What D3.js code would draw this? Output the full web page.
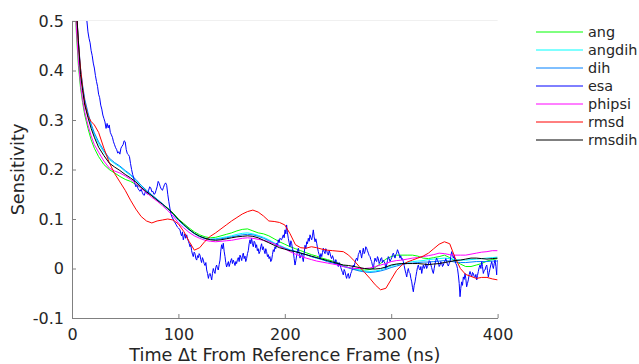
<!DOCTYPE html>
<html>
<head>
<meta charset="utf-8">
<script src="https://cdn.jsdelivr.net/npm/d3@7"></script>
<style>
  html, body { margin: 0; padding: 0; background: #fff; }
  svg { display: block; font-family: "DejaVu Sans", sans-serif; }
</style>
</head>
<body>
<svg id="chart" width="639" height="364"></svg>
<script>
// Lag time grid (ns) shared by the smooth sensitivity curves
const timeNs = [0,2,4,6,8,10,12,15,18,21,
  25,30,35,40,45,50,55,60,65,70,
  75,80,85,90,95,100,105,110,115,120,
  125,130,135,140,145,150,155,160,165,170,
  175,180,185,190,195,200,205,210,215,220,
  225,230,235,240,245,250,255,260,265,270,
  275,280,285,290,295,300,305,310,315,320,
  325,330,335,340,345,350,355,360,365,370,
  375,380,385,390,395,400];

const ang = [1.0,0.62,0.48,0.41,0.365,0.335,0.31,0.283,0.26,0.243,
  0.226,0.21,0.2,0.193,0.186,0.18,0.176,0.17,0.163,0.155,
  0.147,0.139,0.13,0.122,0.112,0.1,0.091,0.082,0.074,0.068,
  0.064,0.062,0.063,0.066,0.069,0.072,0.076,0.079,0.08,0.076,
  0.072,0.07,0.066,0.06,0.054,0.049,0.044,0.04,0.036,0.032,
  0.028,0.025,0.021,0.018,0.015,0.011,0.006,0.002,-0.002,-0.003,
  -0.003,-0.002,0.002,0.01,0.019,0.024,0.027,0.027,0.027,0.027,
  0.025,0.021,0.02,0.022,0.024,0.027,0.022,0.015,0.009,0.004,
  0.004,0.007,0.01,0.015,0.018,0.02];

const angdih = [1.0,0.66,0.52,0.455,0.4,0.365,0.337,0.31,0.288,0.27,
  0.252,0.235,0.22,0.212,0.205,0.196,0.188,0.178,0.167,0.157,
  0.148,0.139,0.13,0.12,0.11,0.097,0.087,0.078,0.07,0.064,
  0.06,0.059,0.06,0.062,0.064,0.066,0.069,0.071,0.072,0.07,
  0.067,0.063,0.058,0.052,0.047,0.042,0.038,0.035,0.031,0.028,
  0.024,0.021,0.018,0.015,0.012,0.009,0.005,0.002,0.0,-0.003,
  -0.005,-0.006,-0.005,-0.003,0.001,0.005,0.008,0.01,0.012,0.014,
  0.015,0.016,0.018,0.019,0.02,0.021,0.02,0.018,0.017,0.017,
  0.018,0.019,0.02,0.021,0.022,0.023];

const dih = [1.0,0.67,0.525,0.46,0.405,0.37,0.342,0.315,0.292,0.274,
  0.256,0.238,0.223,0.214,0.207,0.198,0.19,0.18,0.168,0.158,
  0.149,0.14,0.131,0.121,0.11,0.098,0.088,0.079,0.071,0.065,
  0.061,0.059,0.059,0.06,0.062,0.064,0.066,0.068,0.069,0.068,
  0.065,0.061,0.056,0.05,0.045,0.041,0.037,0.034,0.031,0.028,
  0.024,0.021,0.018,0.014,0.011,0.008,0.004,0.001,-0.002,-0.005,
  -0.007,-0.008,-0.007,-0.005,-0.002,0.002,0.005,0.008,0.01,0.011,
  0.012,0.013,0.013,0.014,0.015,0.016,0.015,0.013,0.012,0.012,
  0.013,0.014,0.014,0.014,0.015,0.015];

const phipsi = [1.0,0.63,0.49,0.42,0.372,0.34,0.316,0.29,0.268,0.25,
  0.235,0.217,0.203,0.197,0.193,0.187,0.18,0.172,0.162,0.153,
  0.144,0.136,0.127,0.117,0.106,0.092,0.082,0.073,0.066,0.061,
  0.057,0.055,0.054,0.055,0.056,0.057,0.059,0.061,0.062,0.061,
  0.059,0.057,0.054,0.05,0.045,0.04,0.034,0.029,0.025,0.021,
  0.018,0.015,0.013,0.011,0.009,0.007,0.004,0.002,0.0,0.0,
  0.0,0.001,0.004,0.007,0.01,0.014,0.016,0.017,0.019,0.021,
  0.022,0.024,0.026,0.028,0.031,0.03,0.028,0.027,0.027,0.027,
  0.029,0.031,0.033,0.034,0.036,0.036];

const rmsd = [1.0,0.67,0.53,0.455,0.405,0.365,0.335,0.308,0.297,0.29,
  0.275,0.243,0.214,0.192,0.175,0.158,0.138,0.12,0.105,0.096,
  0.092,0.096,0.098,0.1,0.098,0.09,0.075,0.055,0.037,0.042,
  0.055,0.065,0.072,0.08,0.088,0.096,0.103,0.11,0.115,0.118,
  0.114,0.106,0.096,0.095,0.093,0.088,0.07,0.048,0.042,0.041,
  0.044,0.042,0.039,0.037,0.036,0.035,0.034,0.027,0.016,0.004,
  -0.008,-0.02,-0.033,-0.043,-0.04,-0.022,-0.004,0.007,0.013,0.017,
  0.021,0.025,0.031,0.04,0.049,0.054,0.05,0.022,0.0,-0.012,
  -0.016,-0.02,-0.018,-0.018,-0.021,-0.023];

const rmsdih = [1.0,0.68,0.53,0.46,0.392,0.36,0.33,0.305,0.283,0.265,
  0.245,0.228,0.213,0.205,0.198,0.19,0.183,0.175,0.164,0.155,
  0.147,0.138,0.13,0.121,0.111,0.099,0.089,0.079,0.071,0.065,
  0.061,0.058,0.057,0.058,0.06,0.062,0.064,0.065,0.066,0.065,
  0.062,0.057,0.052,0.047,0.042,0.039,0.036,0.034,0.031,0.028,
  0.025,0.022,0.019,0.016,0.013,0.01,0.007,0.006,0.004,0.002,
  0.0,-0.001,-0.001,0.0,0.003,0.007,0.009,0.01,0.01,0.01,
  0.01,0.009,0.008,0.009,0.01,0.012,0.014,0.016,0.017,0.019,
  0.021,0.021,0.02,0.019,0.02,0.021];

// The esa estimate is noisy, so it carries its own dense [time ns, value] samples
const esaSamples = [[0,1.0],[10,0.56],[12,0.53],
  [14,0.5],[15,0.478],[16,0.465],[17,0.456],[18,0.44],[19,0.43],[20,0.415],[21,0.405],[22,0.39],[23,0.378],
  [24,0.368],[25,0.352],[26,0.345],[27,0.33],[28,0.322],[29,0.31],[30,0.303],[31,0.296],[32,0.283],[33,0.293],
  [34,0.284],[35,0.29],[36,0.275],[37,0.27],[38,0.265],[39,0.256],[40,0.25],[41,0.244],[42,0.24],[43,0.233],
  [44,0.236],[45,0.231],[46,0.243],[47,0.247],[48,0.25],[49,0.258],[50,0.256],[51,0.24],[52,0.232],[53,0.23],
  [54,0.226],[55,0.212],[56,0.2],[57,0.19],[58,0.183],[59,0.172],[60,0.165],[61,0.168],[62,0.162],[63,0.158],
  [64,0.156],[65,0.16],[66,0.154],[67,0.149],[68,0.148],[69,0.156],[70,0.153],[71,0.15],[72,0.158],[73,0.165],
  [74,0.163],[75,0.155],[76,0.156],[77,0.15],[78,0.151],[79,0.158],[80,0.165],[81,0.176],[82,0.172],[83,0.165],
  [84,0.16],[85,0.158],[86,0.164],[87,0.17],[88,0.173],[89,0.168],[90,0.15],[91,0.135],[92,0.122],[93,0.11],
  [94,0.104],[95,0.1],[96,0.095],[97,0.092],[98,0.088],[99,0.084],[100,0.082],
  [101.5,0.078],[102.3,0.07],[103,0.066],[103.8,0.074],[104.6,0.058],[105.3,0.064],[106,0.07],[106.9,0.061],
  [107.8,0.068],[108.6,0.06],[109.4,0.055],[110.2,0.05],[110.9,0.044],[111.7,0.048],[112.4,0.036],[113.2,0.029],
  [114,0.024],[114.8,0.033],[115.6,0.03],[116.4,0.02],[117.2,0.017],[118,0.026],[118.8,0.022],[119.5,0.03],
  [120.3,0.027],[121,0.018],[121.8,0.012],[122.6,0.022],[123.4,0.017],[124.2,0.01],[125,0.006],[125.8,0.012],
  [126.6,-0.003],[127.4,-0.01],[128.2,-0.02],[129,-0.012],[129.7,-0.01],[130.5,-0.016],[131.3,-0.023],[132,-0.01],
  [132.8,0.0],[133.6,-0.006],[134.4,-0.01],[135.1,0.002],[135.9,0.007],[136.7,0.0],[137.5,-0.003],[138.3,0.008],
  [139.1,0.017],[139.8,0.035],[140.6,0.048],[141.4,0.04],[142.2,0.051],[143,0.035],[143.8,0.024],[144.5,0.012],
  [145.3,0.003],[146.2,0.009],[147,0.014],[147.7,0.004],[148.5,0.01],[149.2,0.016],[150,0.02],[150.8,0.01],
  [151.6,0.017],[152.4,0.012],[153.2,0.006],[154,0.014],[154.7,0.01],[155.5,0.018],[156.3,0.022],[157.1,0.014],
  [157.9,0.027],[158.7,0.022],[159.5,0.016],[160.2,0.026],[161,0.031],[161.8,0.02],[162.6,0.025],[163.3,0.014],
  [164.1,0.02],[164.9,0.03],[165.7,0.036],[166.5,0.05],[167.3,0.058],[168,0.05],[168.8,0.061],[169.6,0.05],
  [170.4,0.044],[171.2,0.055],[172,0.052],[172.7,0.042],[173.5,0.048],[174.2,0.036],[175,0.04],[175.8,0.03],
  [176.6,0.034],[177.4,0.044],[178.2,0.05],[179,0.038],[179.8,0.044],[180.6,0.036],[181.4,0.03],[182.1,0.04],
  [182.9,0.034],[183.7,0.024],[184.5,0.028],[185.2,0.02],[186,0.024],[186.8,0.014],[187.6,0.017],[188.4,0.028],
  [189.2,0.038],[190,0.034],[190.8,0.044],[191.5,0.04],[192.3,0.051],[193.1,0.046],[193.9,0.058],[194.6,0.052],
  [195.4,0.061],[197,0.058],[198.6,0.068],[199.4,0.062],[200.2,0.078],[201,0.07],[201.7,0.088],[202.5,0.072],
  [203.3,0.061],[204.1,0.052],[204.9,0.044],[205.7,0.056],[206.5,0.05],[207.2,0.04],[208,0.034],[208.8,0.02],
  [209.6,0.007],[210.4,0.016],[211.2,0.027],[212,0.035],[212.7,0.041],[213.5,0.03],[214.3,0.021],[215.1,0.026],
  [215.9,0.031],[216.6,0.022],[217.4,0.014],[218.2,0.03],[219,0.047],[219.8,0.04],[220.6,0.054],[221.3,0.05],
  [222.1,0.061],[222.9,0.055],[223.7,0.068],[224.5,0.062],[225.3,0.058],[226,0.066],[226.8,0.078],[227.6,0.064],
  [228.4,0.054],[229.2,0.06],[230,0.051],[230.7,0.042],[231.5,0.034],[232.3,0.028],[233.1,0.021],[233.9,0.03],
  [234.7,0.024],[235.4,0.032],[236.2,0.041],[237,0.034],[237.8,0.03],[238.5,0.04],[239.3,0.037],[240.1,0.03],
  [240.9,0.027],[241.7,0.036],[242.5,0.031],[243.2,0.024],[244,0.02],[244.8,0.026],[245.6,0.021],[246.4,0.014],
  [247.2,0.01],[247.9,0.018],[248.7,0.014],[249.5,0.008],[250.3,0.004],[251.1,0.012],[251.9,0.007],[252.6,0.002],
  [253.4,-0.003],[254.2,-0.008],[255,-0.013],[255.8,-0.002],[256.6,-0.006],[257.3,-0.014],[258.1,-0.02],[258.9,-0.012],
  [259.7,-0.01],[260.5,-0.02],[261.3,-0.017],[262,-0.01],[262.8,-0.006],[263.6,0.0],[264.4,0.007],[265.2,0.004],
  [266,0.012],[266.7,0.018],[267.5,0.021],[268.3,0.016],[269.1,0.028],[269.9,0.032],[270.7,0.037],[271.4,0.03],
  [272.2,0.021],[273,0.032],[273.8,0.041],[274.6,0.03],[275.4,0.034],[276.1,0.044],[276.9,0.041],[277.7,0.036],
  [278.5,0.031],[279.3,0.026],[280.1,0.024],[280.8,0.018],[281.6,0.014],[282.4,0.006],[283.2,0.0],[284,0.012],
  [284.8,0.021],[285.5,0.016],[286.3,0.014],[287.1,0.024],[287.9,0.02],[288.7,0.01],[289.5,0.014],[290.2,0.02],
  [291,0.022],[291.8,0.012],[292.6,0.017],[293.4,0.014],[294.2,0.01],[294.9,0.0],[295.7,0.007],[296.5,0.016],
  [297.3,0.024],[298.1,0.02],[298.9,0.014],[299.7,0.018],[300.5,0.022],[301.2,0.028],[302,0.031],[302.8,0.026],
  [303.6,0.021],[304.3,0.028],[305.1,0.031],[305.9,0.038],[306.7,0.034],[307.5,0.028],[308.3,0.021],[309,0.026],
  [309.8,0.018],[310.6,0.02],[311.4,0.014],[312.2,0.006],[313,-0.003],[313.8,-0.01],[314.6,-0.017],[315.3,-0.006],
  [316.1,0.0],[316.9,-0.008],[317.7,-0.01],[318.5,-0.02],[319.3,-0.027],[320,-0.038],[320.8,-0.047],[321.6,-0.034],
  [322.4,-0.027],[323.2,-0.016],[324,-0.006],[324.7,0.002],[325.5,0.007],[326.3,0.0],[327.1,-0.003],[327.9,0.004],
  [328.7,-0.01],[329.4,0.0],[330.2,0.007],[331,0.0],[331.8,0.004],[332.6,0.01],[333.3,0.0],[334.1,0.004],
  [334.9,0.008],[335.7,0.016],[336.5,0.014],[337.2,0.008],[338,0.002],[338.8,-0.005],[339.6,-0.01],[340.4,0.0],
  [341.2,0.01],[341.9,0.016],[342.7,0.021],[343.5,0.016],[344.3,0.013],[345.1,0.004],[345.9,0.007],[346.6,0.014],
  [347.4,0.012],[348.2,0.004],[349,0.007],[349.8,0.012],[350.6,0.016],[351.3,0.02],[352.1,0.014],[352.9,0.008],
  [353.7,0.005],[354.5,0.01],[355.3,0.014],[356,0.024],[356.8,0.034],[357.6,0.028],[358.4,0.021],[359.2,0.026],
  [360,0.015],[360.7,0.01],[361.5,0.007],[362.3,0.0],[363.1,-0.013],[363.9,-0.03],[364.7,-0.057],[365.4,-0.04],
  [366.2,-0.027],[367,-0.034],[367.8,-0.017],[368.6,-0.022],[369.4,-0.01],[370.1,-0.02],[370.9,-0.037],[371.7,-0.03],
  [372.5,-0.023],[373.3,-0.012],[374.1,-0.006],[374.9,-0.012],[375.7,-0.017],[376.4,-0.008],[377.2,-0.01],[378,-0.016],
  [378.8,-0.018],[379.6,-0.012],[380.4,-0.023],[381.1,-0.014],[381.9,-0.006],[382.7,0.002],[383.5,0.007],[384.3,0.0],
  [385.1,0.014],[385.8,0.004],[386.6,-0.01],[387.4,-0.004],[388.2,-0.003],[389,0.004],[389.8,0.007],[390.5,-0.004],
  [391.3,-0.017],[392.1,-0.008],[392.9,0.0],[393.7,0.008],[394.5,0.014],[395.2,0.006],[396,0.0],[396.8,0.01],
  [397.6,0.017],[398.4,0.004],[399.2,-0.013],[400,0.017]];

const seriesNames = ["ang", "angdih", "dih", "esa", "phipsi", "rmsd", "rmsdih"];
const seriesColors = ["#00ff00", "#00ffff", "#0080ff", "#0000ff", "#ff00ff", "#ff0000", "#000000"];
const xTicks = [0, 100, 200, 300, 400];
const yTicks = [-0.1, 0, 0.1, 0.2, 0.3, 0.4, 0.5];

const zipGrid = vals => timeNs.map((t, i) => [t, vals[i]]);
const seriesData = [
  { name: "ang", pts: zipGrid(ang) },
  { name: "angdih", pts: zipGrid(angdih) },
  { name: "dih", pts: zipGrid(dih) },
  { name: "esa", pts: esaSamples },
  { name: "phipsi", pts: zipGrid(phipsi) },
  { name: "rmsd", pts: zipGrid(rmsd) },
  { name: "rmsdih", pts: zipGrid(rmsdih) }
];

const svg = d3.select("#chart");
const x = d3.scaleLinear().domain([0, 400]).range([72, 497.6]);
const y = d3.scaleLinear().domain([-0.1, 0.5]).range([318, 21]);
const color = d3.scaleOrdinal().domain(seriesNames).range(seriesColors);

// plotting area clip
svg.append("defs").append("clipPath").attr("id", "plotClip")
  .append("rect")
  .attr("x", x(0)).attr("y", y(0.5))
  .attr("width", x(400) - x(0)).attr("height", y(-0.1) - y(0.5));

// faint upper frame edge
svg.append("line")
  .attr("x1", x(0)).attr("x2", x(400))
  .attr("y1", Math.round(y(0.5)) - 0.5).attr("y2", Math.round(y(0.5)) - 0.5)
  .attr("stroke", "#f0f0f0").attr("stroke-width", 1);

const line = d3.line()
  .x(d => x(d[0]))
  .y(d => y(d[1]));

const plot = svg.append("g").attr("clip-path", "url(#plotClip)");
seriesData.forEach(s => {
  plot.append("path")
    .datum(s.pts)
    .attr("fill", "none")
    .attr("stroke", color(s.name))
    .attr("stroke-width", 1)
    .attr("stroke-linejoin", "round")
    .attr("d", line);
});

// axes
const tickFmt = d => (d === 0 ? "0" : String(d));
const axisColor = "#808080";
const textColor = "#262626";

const xAxis = svg.append("g")
  .attr("transform", `translate(0,${y(-0.1)})`)
  .call(d3.axisBottom(x).tickValues(xTicks).tickFormat(tickFmt)
    .tickSizeInner(-4).tickSizeOuter(0).tickPadding(11));

const yAxis = svg.append("g")
  .attr("transform", `translate(${x(0)},0)`)
  .call(d3.axisLeft(y).tickValues(yTicks).tickFormat(tickFmt)
    .tickSizeInner(-4).tickSizeOuter(0).tickPadding(8));

[xAxis, yAxis].forEach(g => {
  g.attr("font-family", "DejaVu Sans, sans-serif").attr("font-size", 16);
  g.select(".domain").attr("stroke", axisColor);
  g.selectAll(".tick line").attr("stroke", axisColor);
  g.selectAll(".tick text").attr("fill", textColor);
});

// axis titles
svg.append("text")
  .attr("x", (x(0) + x(400)) / 2)
  .attr("y", 361)
  .attr("text-anchor", "middle")
  .attr("font-size", 17.6)
  .attr("fill", textColor)
  .text("Time \u0394t From Reference Frame (ns)");

svg.append("text")
  .attr("transform", `translate(24,${(y(-0.1) + y(0.5)) / 2}) rotate(-90)`)
  .attr("text-anchor", "middle")
  .attr("font-size", 17.6)
  .attr("fill", textColor)
  .text("Sensitivity");

// legend
const legend = svg.append("g").attr("transform", "translate(536,32)");
seriesNames.forEach((name, i) => {
  const row = legend.append("g").attr("transform", `translate(0,${i * 18})`);
  row.append("line")
    .attr("x1", 0).attr("x2", 47)
    .attr("y1", 0).attr("y2", 0)
    .attr("stroke", color(name))
    .attr("stroke-width", 1);
  row.append("text")
    .attr("x", 52).attr("y", 0).attr("dy", "0.35em")
    .attr("font-size", 14.4)
    .attr("fill", textColor)
    .text(name);
});
</script>
</body>
</html>
